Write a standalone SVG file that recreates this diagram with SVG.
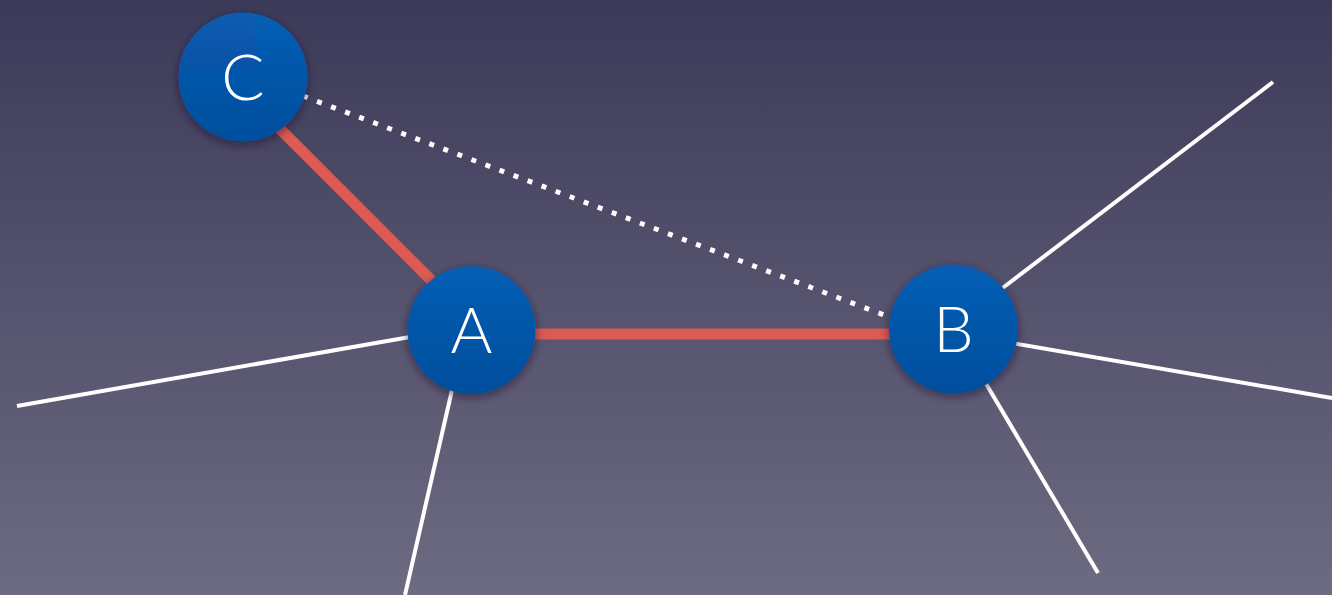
<svg xmlns="http://www.w3.org/2000/svg" width="1332" height="595" viewBox="0 0 1332 595">
  <defs>
    <linearGradient id="bg" x1="0" y1="0" x2="0" y2="1">
      <stop offset="0" stop-color="#3c3a59"/>
      <stop offset="1" stop-color="#6d6b81"/>
    </linearGradient>
    <linearGradient id="ball" x1="0" y1="0" x2="0" y2="1">
      <stop offset="0" stop-color="#075cb2"/>
      <stop offset="1" stop-color="#054f9e"/>
    </linearGradient>
    <filter id="shadow" x="-30%" y="-30%" width="160%" height="160%">
      <feDropShadow dx="0" dy="3" stdDeviation="4" flood-color="#1a1830" flood-opacity="0.6"/>
    </filter>
  </defs>
  <style>
    .spoke { stroke: #ffffff; stroke-width: 4; stroke-linecap: butt; fill: none; }
    .path { stroke: #d95b52; stroke-width: 11; fill: none; }
    .dots { stroke: #ffffff; stroke-width: 5; stroke-dasharray: 5 10; fill: none; }
    .node circle { fill: url(#ball); filter: url(#shadow); }
    .node text { fill: #ffffff; font-family: Lato, "Open Sans", "Liberation Sans", sans-serif; font-weight: 300; font-size: 64px; text-anchor: middle; }
  </style>
  <rect width="1332" height="595" fill="url(#bg)"/>
  <g id="connectors">
    <line class="spoke" x1="410" y1="337" x2="17" y2="406"/>
    <line class="spoke" x1="452" y1="390" x2="405" y2="595"/>
    <line class="spoke" x1="1000" y1="290" x2="1273" y2="82"/>
    <line class="spoke" x1="1012" y1="343" x2="1332" y2="398"/>
    <line class="spoke" x1="985" y1="382" x2="1098" y2="573"/>
    <line class="dots" x1="303" y1="96" x2="892" y2="318"/>
    <line class="path" x1="275" y1="124" x2="436" y2="285"/>
    <line class="path" x1="530" y1="334" x2="895" y2="334"/>
  </g>
  <g id="node-C" class="node">
    <circle cx="243" cy="77" r="64.5"/>
    <text x="243" y="100">C</text>
  </g>
  <g id="node-A" class="node">
    <circle cx="471.5" cy="330" r="64"/>
    <text x="471.5" y="353">A</text>
  </g>
  <g id="node-B" class="node">
    <circle cx="953.5" cy="329" r="64.5"/>
    <text x="953.5" y="352">B</text>
  </g>
</svg>
